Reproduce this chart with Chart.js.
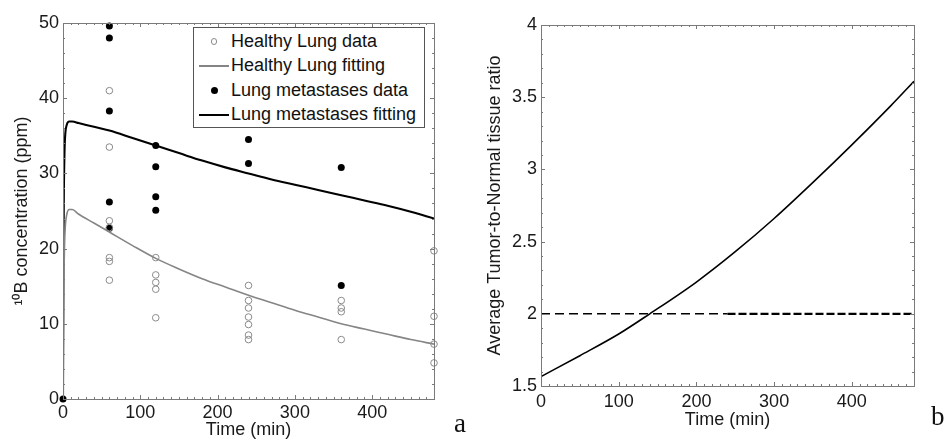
<!DOCTYPE html>
<html lang="en">
<head>
<meta charset="UTF-8" />
<title>10B concentration and tumor-to-normal ratio</title>
<script src="https://cdn.jsdelivr.net/npm/chart.js@4.4.0/dist/chart.umd.min.js"></script>
<style>
  body { margin: 0; background: #fff; }
  #wrap { position: relative; width: 944px; height: 441px; overflow: hidden; font-family: "Liberation Sans", Arial, sans-serif; }
  canvas { position: absolute; top: 0; }
  #chartA { left: 0; }
  #chartB { left: 470px; }
  .tag { position: absolute; font-family: "Liberation Serif", "Times New Roman", serif; font-size: 27px; line-height: 27px; color: #111; }
  #legendA { position: absolute; left: 193px; top: 27px; width: 232px; height: 101px; border: 1px solid #555; background: #fff; box-sizing: border-box; padding-top: 1px; }
  #legendA .row { display: flex; align-items: center; height: 24.5px; font-size: 18px; color: #111; white-space: nowrap; }
  #legendA .sym { width: 30px; height: 24px; margin-left: 5px; position: relative; }
</style>
</head>
<body>
<div id="wrap">
  <canvas id="chartA" width="470" height="441"></canvas>
  <canvas id="chartB" width="474" height="441"></canvas>
  <div id="legendA"></div>
  <div class="tag" style="left:454px; top:410px;">a</div>
  <div class="tag" style="left:931px; top:403px;">b</div>
</div>
<script>
// ---- panel a: measured 10B concentration (ppm) ----
const healthyT = [60, 60, 60, 60, 60, 60, 60,
                  120, 120, 120, 120, 120,
                  240, 240, 240, 240, 240, 240, 240,
                  360, 360, 360, 360,
                  480, 480, 480, 480];
const healthyPpm = [41.0, 33.5, 23.7, 22.8, 18.8, 18.3, 15.8,
                    18.8, 16.5, 15.5, 14.6, 10.8,
                    15.1, 13.1, 12.1, 10.9, 9.9, 8.5, 7.9,
                    13.1, 12.1, 11.6, 7.9,
                    19.7, 11.0, 7.3, 4.8];

const metaT = [0, 60, 60, 60, 60, 60, 120, 120, 120, 120, 240, 240, 360, 360];
const metaPpm = [0, 49.6, 48.0, 38.3, 26.2, 22.7, 33.7, 30.9, 26.9, 25.1, 34.5, 31.3, 30.8, 15.1];

// fitted curves
const fitT = [0, 0.5, 1, 2, 3, 5, 8, 12, 20, 40, 60, 90, 120, 150, 180, 210, 240, 270, 300, 330, 360, 390, 420, 450, 480];
const healthyFit = [0, 8, 14.5, 20.5, 23, 24.6, 25.2, 25.2, 24.6, 23.4, 22.2, 20.4, 18.7, 17.3, 16.0, 14.9, 13.8, 12.8, 11.8, 10.9, 10.0, 9.3, 8.6, 7.9, 7.3];
const metaFit = [0, 16, 26, 33, 35.3, 36.5, 36.9, 36.9, 36.7, 36.2, 35.7, 34.7, 33.7, 32.7, 31.7, 30.8, 30.0, 29.2, 28.5, 27.8, 27.1, 26.4, 25.7, 24.9, 24.0];

// ---- panel b: tumor-to-normal ratio ----
const ratioT = [0, 50, 100, 140, 200, 250, 300, 350, 400, 450, 480];
const ratio = [1.565, 1.71, 1.86, 2.0, 2.22, 2.43, 2.66, 2.91, 3.17, 3.44, 3.61];
const thresholdLeftT = [0, 240];
const thresholdRightT = [240, 480];
const threshold = [2, 2];

// tick labels
const timeTicks = [0, 100, 200, 300, 400];
const ppmTicks = [0, 10, 20, 30, 40, 50];
const ratioTicks = [1.5, 2, 2.5, 3, 3.5, 4];

const pts = (xs, ys) => xs.map((x, i) => ({ x: x, y: ys[i] }));

// box + inward major/minor ticks on all four sides
const frameTicks = {
  id: 'frameTicks',
  afterDatasetsDraw(chart, args, o) {
    const { ctx, chartArea: a } = chart;
    const xs = chart.scales.x, ys = chart.scales.y;
    ctx.save();
    ctx.strokeStyle = '#7a7a7a';
    ctx.lineWidth = 1;
    ctx.beginPath();
    const nx = Math.round((xs.max - xs.min) / o.xMinor);
    for (let i = 0; i <= nx; i++) {
      const p = Math.round(xs.getPixelForValue(xs.min + i * o.xMinor)) + 0.5;
      const len = i % o.xEvery === 0 ? 4 : 2;
      ctx.moveTo(p, a.bottom); ctx.lineTo(p, a.bottom - len);
      ctx.moveTo(p, a.top); ctx.lineTo(p, a.top + len);
    }
    const ny = Math.round((ys.max - ys.min) / o.yMinor);
    for (let i = 0; i <= ny; i++) {
      const p = Math.round(ys.getPixelForValue(ys.min + i * o.yMinor)) + 0.5;
      const len = i % o.yEvery === 0 ? 4 : 2;
      ctx.moveTo(a.left, p); ctx.lineTo(a.left + len, p);
      ctx.moveTo(a.right, p); ctx.lineTo(a.right - len, p);
    }
    ctx.stroke();
    ctx.strokeRect(Math.round(a.left) + 0.5, Math.round(a.top) + 0.5, Math.round(a.width), Math.round(a.height));
    ctx.restore();
  }
};

const tickFont = { family: '"Liberation Sans", Arial, sans-serif', size: 18 };

function axis(ticksList, min, max, size, tickPad, title, titlePad) {
  return {
    type: 'linear', min: min, max: max,
    grid: { display: false, drawTicks: false },
    border: { display: false },
    afterBuildTicks: s => { s.ticks = ticksList.map(v => ({ value: v })); },
    afterFit: s => { if (s.isHorizontal()) s.height = size; else s.width = size; },
    ticks: { font: tickFont, color: '#1a1a1a', padding: tickPad, callback: v => String(v) },
    title: { display: true, text: title, font: tickFont, color: '#1a1a1a', padding: titlePad }
  };
}

const chartA = new Chart(document.getElementById('chartA'), {
  type: 'scatter',
  data: {
    datasets: [
      { label: 'Healthy Lung data', data: pts(healthyT, healthyPpm), pointStyle: 'circle', pointRadius: 3.3,
        borderColor: '#8a8a8a', backgroundColor: 'rgba(0,0,0,0)', borderWidth: 1, clip: false },
      { label: 'Healthy Lung fitting', data: pts(fitT, healthyFit), showLine: true, pointRadius: 0,
        borderColor: '#858585', borderWidth: 1.6, cubicInterpolationMode: 'monotone' },
      { label: 'Lung metastases data', data: pts(metaT, metaPpm), pointRadius: 3.5,
        borderColor: '#000', backgroundColor: '#000', borderWidth: 0, clip: false },
      { label: 'Lung metastases fitting', data: pts(fitT, metaFit), showLine: true, pointRadius: 0,
        borderColor: '#000', borderWidth: 2.1, cubicInterpolationMode: 'monotone' }
    ]
  },
  options: {
    responsive: false, animation: false, devicePixelRatio: 1,
    layout: { padding: { top: 23, right: 36, left: 0, bottom: 0 } },
    plugins: { legend: { display: false }, tooltip: { enabled: false },
      frameTicks: { xMinor: 10, xEvery: 10, yMinor: 2, yEvery: 5 } },
    scales: {
      x: axis(timeTicks, 0, 480, 42, 3, 'Time (min)', { top: 0, bottom: 0 }),
      y: axis(ppmTicks, 0, 50, 63, 4, '\u00b9\u2070B concentration (ppm)', { top: 11, bottom: 0 })
    }
  },
  plugins: [frameTicks]
});

const chartB = new Chart(document.getElementById('chartB'), {
  type: 'scatter',
  data: {
    datasets: [
      { label: 'Average T/N ratio', data: pts(ratioT, ratio), showLine: true, pointRadius: 0,
        borderColor: '#000', borderWidth: 1.6, cubicInterpolationMode: 'monotone' },
      { label: 'Threshold', data: pts(thresholdLeftT, threshold), showLine: true, pointRadius: 0,
        borderColor: '#000', borderWidth: 1.5, borderDash: [9, 5] },
      { label: 'Threshold', data: pts(thresholdRightT, threshold), showLine: true, pointRadius: 0,
        borderColor: '#000', borderWidth: 2.3, borderDash: [8, 3] }
    ]
  },
  options: {
    responsive: false, animation: false, devicePixelRatio: 1,
    layout: { padding: { top: 25, right: 30, left: 0, bottom: 0 } },
    plugins: { legend: { display: false }, tooltip: { enabled: false },
      frameTicks: { xMinor: 10, xEvery: 10, yMinor: 0.1, yEvery: 5 } },
    scales: {
      x: axis(timeTicks, 0, 480, 55, 5, 'Time (min)', { top: 0, bottom: 10 }),
      y: axis(ratioTicks, 1.5, 4, 71, 4, 'Average Tumor-to-Normal tissue ratio', { top: 14, bottom: 0 })
    }
  },
  plugins: [frameTicks]
});

// legend for panel a, built from the dataset styles
const legendBox = document.getElementById('legendA');
chartA.data.datasets.forEach(ds => {
  const row = document.createElement('div');
  row.className = 'row';
  const sym = document.createElement('span');
  sym.className = 'sym';
  const mark = document.createElement('span');
  mark.style.position = 'absolute';
  if (ds.showLine) {
    mark.style.left = '0px'; mark.style.width = '30px'; mark.style.top = (12 - ds.borderWidth / 2) + 'px';
    mark.style.height = ds.borderWidth + 'px'; mark.style.background = ds.borderColor;
  } else {
    const d = ds.pointRadius * 2;
    mark.style.left = (15 - d / 2) + 'px'; mark.style.top = (12 - d / 2) + 'px';
    mark.style.width = d + 'px'; mark.style.height = d + 'px'; mark.style.borderRadius = '50%';
    mark.style.boxSizing = 'border-box';
    mark.style.border = ds.borderWidth + 'px solid ' + ds.borderColor;
    mark.style.background = ds.backgroundColor;
  }
  sym.appendChild(mark);
  const txt = document.createElement('span');
  txt.textContent = ds.label;
  txt.style.marginLeft = '2px';
  row.appendChild(sym);
  row.appendChild(txt);
  legendBox.appendChild(row);
});
</script>
</body>
</html>
